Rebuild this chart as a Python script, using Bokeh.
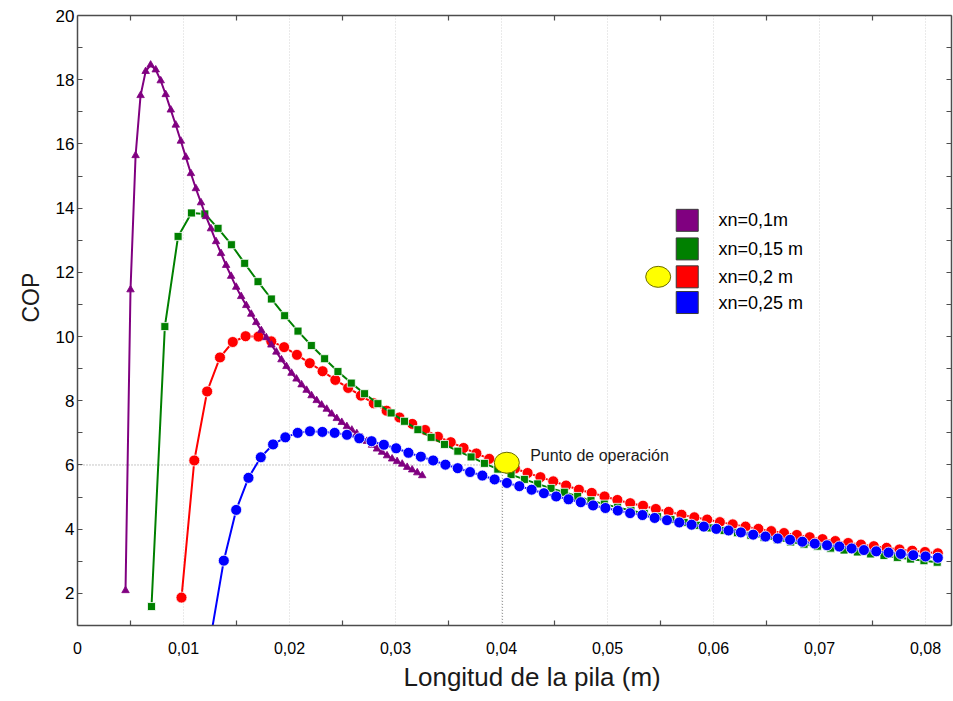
from bokeh.plotting import figure
from bokeh.models import FixedTicker, LinearAxis, Range1d, Label, Title, ColumnDataSource
from bokeh.embed import file_html
from bokeh.resources import INLINE
from bokeh.core.properties import value

FONT = "Liberation Sans"

# ---- data: xn = 0.1 m (purple triangles)
x_01 = [0.00453, 0.00500, 0.00548, 0.00595, 0.00643, 0.00690, 0.00738, 0.00785, 0.00832, 0.00880,
        0.00927, 0.00975, 0.01022, 0.01070, 0.01117, 0.01165, 0.01212, 0.01259, 0.01307, 0.01354,
        0.01402, 0.01449, 0.01497, 0.01544, 0.01592, 0.01639, 0.01686, 0.01734, 0.01781, 0.01829,
        0.01876, 0.01924, 0.01971, 0.02019, 0.02066, 0.02114, 0.02161, 0.02208, 0.02256, 0.02303,
        0.02351, 0.02398, 0.02446, 0.02493, 0.02541, 0.02588, 0.02635, 0.02683, 0.02730, 0.02778,
        0.02825, 0.02873, 0.02920, 0.02968, 0.03015, 0.03063, 0.03110, 0.03157, 0.03205, 0.03252]
cop_01 = [2.09, 11.46, 15.64, 17.51, 18.26, 18.46, 18.31, 17.97, 17.54, 17.06,
          16.59, 16.09, 15.59, 15.08, 14.61, 14.17, 13.74, 13.36, 12.96, 12.59,
          12.22, 11.88, 11.54, 11.25, 10.97, 10.70, 10.44, 10.19, 9.97, 9.74,
          9.52, 9.28, 9.07, 8.86, 8.68, 8.50, 8.33, 8.16, 8.01, 7.87,
          7.74, 7.59, 7.45, 7.33, 7.20, 7.09, 6.98, 6.86, 6.74, 6.62,
          6.50, 6.40, 6.29, 6.19, 6.11, 6.03, 5.93, 5.85, 5.76, 5.67]

# ---- data: xn = 0.15 m (green squares)
x_015 = [0.00698, 0.00824, 0.00949, 0.01075, 0.01201, 0.01326, 0.01452, 0.01577, 0.01703, 0.01829,
         0.01954, 0.02080, 0.02206, 0.02331, 0.02457, 0.02583, 0.02708, 0.02834, 0.02959, 0.03085,
         0.03211, 0.03336, 0.03462, 0.03588, 0.03713, 0.03839, 0.03965, 0.04090, 0.04216, 0.04341,
         0.04467, 0.04593, 0.04718, 0.04844, 0.04970, 0.05095, 0.05221, 0.05346, 0.05472, 0.05598,
         0.05723, 0.05849, 0.05975, 0.06100, 0.06226, 0.06352, 0.06477, 0.06603, 0.06728, 0.06854,
         0.06980, 0.07105, 0.07231, 0.07357, 0.07482, 0.07608, 0.07734, 0.07859, 0.07985, 0.08110]
cop_015 = [1.59, 10.31, 13.12, 13.85, 13.82, 13.37, 12.86, 12.28, 11.71, 11.17,
           10.65, 10.17, 9.72, 9.31, 8.91, 8.55, 8.22, 7.91, 7.62, 7.36,
           7.10, 6.86, 6.64, 6.43, 6.25, 6.05, 5.87, 5.70, 5.55, 5.41,
           5.27, 5.15, 5.02, 4.89, 4.78, 4.68, 4.58, 4.49, 4.39, 4.30,
           4.21, 4.12, 4.04, 3.96, 3.89, 3.81, 3.74, 3.67, 3.60, 3.53,
           3.47, 3.41, 3.35, 3.29, 3.23, 3.18, 3.12, 3.07, 3.02, 2.97]

# ---- data: xn = 0.2 m (red circles)
x_02 = [0.00981, 0.01102, 0.01223, 0.01344, 0.01465, 0.01586, 0.01707, 0.01828, 0.01949, 0.02070,
        0.02191, 0.02312, 0.02432, 0.02553, 0.02674, 0.02795, 0.02916, 0.03037, 0.03158, 0.03279,
        0.03400, 0.03521, 0.03642, 0.03763, 0.03884, 0.04005, 0.04126, 0.04246, 0.04367, 0.04488,
        0.04609, 0.04730, 0.04851, 0.04972, 0.05093, 0.05214, 0.05335, 0.05456, 0.05577, 0.05698,
        0.05819, 0.05940, 0.06060, 0.06181, 0.06302, 0.06423, 0.06544, 0.06665, 0.06786, 0.06907,
        0.07028, 0.07149, 0.07270, 0.07391, 0.07512, 0.07633, 0.07754, 0.07874, 0.07995, 0.08116]
cop_02 = [1.87, 6.14, 8.29, 9.35, 9.83, 10.01, 10.00, 9.85, 9.67, 9.43,
          9.17, 8.92, 8.65, 8.40, 8.16, 7.92, 7.69, 7.48, 7.28, 7.09,
          6.88, 6.71, 6.53, 6.36, 6.19, 6.03, 5.89, 5.75, 5.62, 5.49,
          5.36, 5.23, 5.13, 5.02, 4.91, 4.81, 4.73, 4.63, 4.54, 4.45,
          4.37, 4.30, 4.22, 4.15, 4.08, 4.01, 3.94, 3.88, 3.82, 3.75,
          3.69, 3.63, 3.57, 3.52, 3.47, 3.42, 3.37, 3.33, 3.29, 3.25]

# ---- data: xn = 0.25 m (blue circles)
x_025 = [0.01264, 0.01380, 0.01497, 0.01613, 0.01729, 0.01845, 0.01961, 0.02077, 0.02193, 0.02310,
         0.02426, 0.02542, 0.02658, 0.02774, 0.02890, 0.03006, 0.03122, 0.03239, 0.03355, 0.03471,
         0.03587, 0.03703, 0.03819, 0.03935, 0.04051, 0.04168, 0.04284, 0.04400, 0.04516, 0.04632,
         0.04748, 0.04864, 0.04980, 0.05097, 0.05213, 0.05329, 0.05445, 0.05561, 0.05677, 0.05793,
         0.05909, 0.06026, 0.06142, 0.06258, 0.06374, 0.06490, 0.06606, 0.06722, 0.06838, 0.06955,
         0.07071, 0.07187, 0.07303, 0.07419, 0.07535, 0.07651, 0.07767, 0.07884, 0.08000, 0.08116]
cop_025 = [0.78, 3.02, 4.60, 5.60, 6.24, 6.64, 6.86, 7.00, 7.05, 7.03,
           7.00, 6.94, 6.83, 6.74, 6.63, 6.52, 6.38, 6.26, 6.14, 6.01,
           5.90, 5.78, 5.67, 5.55, 5.44, 5.34, 5.23, 5.12, 5.02, 4.93,
           4.84, 4.74, 4.66, 4.58, 4.50, 4.44, 4.35, 4.28, 4.21, 4.14,
           4.08, 4.01, 3.96, 3.90, 3.83, 3.77, 3.71, 3.67, 3.61, 3.55,
           3.50, 3.46, 3.40, 3.35, 3.31, 3.27, 3.23, 3.19, 3.15, 3.11]

series_labels = ["xn=0,1m", "xn=0,15 m", "xn=0,2 m", "xn=0,25 m"]
series_colors = ["#800080", "#008000", "#ff0000", "#0000ff"]

x_ticks = [0, 0.01, 0.02, 0.03, 0.04, 0.05, 0.06, 0.07, 0.08]
x_tick_labels = ["0", "0,01", "0,02", "0,03", "0,04", "0,05", "0,06", "0,07", "0,08"]
x_minor_ticks = [0.005, 0.015, 0.025, 0.035, 0.045, 0.055, 0.065, 0.075]
y_ticks = [2, 4, 6, 8, 10, 12, 14, 16, 18, 20]
y_minor_ticks = [1, 3, 5, 7, 9, 11, 13, 15, 17, 19]

x_title = "Longitud de la pila (m)"
y_title = "COP"

# operating point
op_x = [0.0405]
op_y = [6.07]
op_guide_x = 0.0401
op_guide_y = 6.0
op_text = "Punto de operación"

# legend layout (data coordinates of the hand-drawn legend)
legend_box_x = 0.05752
legend_text_x = 0.06047
legend_rows_y = [13.62, 12.73, 11.86, 11.06]
legend_mark_x = [0.05478]   # yellow marker beside the xn=0,2 m entry

X_MAX = 0.08245
Y_MIN, Y_MAX = 1, 20
AXIS_COLOR = "#4d4d4d"

p = figure(width=953, height=701, x_range=Range1d(0, X_MAX), y_range=Range1d(Y_MIN, Y_MAX),
           output_backend="svg", toolbar_location=None,
           min_border_left=77, min_border_right=2, min_border_top=15, min_border_bottom=76)
p.outline_line_color = None
p.background_fill_color = "white"
p.border_fill_color = "white"

# grids
p.xgrid.ticker = FixedTicker(ticks=x_ticks)
p.xgrid.grid_line_color = "#d4d4d4"
p.xgrid.grid_line_dash = "1 2"
p.ygrid.grid_line_color = None

# bottom axis
xa = p.xaxis[0]
xa.ticker = FixedTicker(ticks=x_ticks, minor_ticks=x_minor_ticks)
xa.major_label_overrides = dict(zip(x_ticks, x_tick_labels))
xa.major_tick_line_color = None
xa.minor_tick_in = 5
xa.minor_tick_out = 0
xa.minor_tick_line_color = AXIS_COLOR
xa.minor_tick_line_width = 1.2
xa.axis_line_color = AXIS_COLOR
xa.axis_line_width = 1.5
xa.major_label_text_font = FONT
xa.major_label_text_font_size = "16px"
xa.major_label_text_color = "black"
xa.major_label_standoff = 10

# left axis
ya = p.yaxis[0]
ya.ticker = FixedTicker(ticks=y_ticks, minor_ticks=y_minor_ticks)
ya.major_tick_in = 5
ya.major_tick_out = 0
ya.minor_tick_in = 5
ya.minor_tick_out = 0
ya.major_tick_line_color = AXIS_COLOR
ya.minor_tick_line_color = AXIS_COLOR
ya.major_tick_line_width = 1.2
ya.minor_tick_line_width = 1.2
ya.axis_line_color = AXIS_COLOR
ya.axis_line_width = 1.5
ya.major_label_text_font = FONT
ya.major_label_text_font_size = "17px"
ya.major_label_text_color = "black"
ya.major_label_standoff = 3

# top axis (tick marks only)
top = LinearAxis(ticker=FixedTicker(ticks=[], minor_ticks=x_minor_ticks),
                 major_tick_line_color=None, minor_tick_in=5, minor_tick_out=0,
                 minor_tick_line_color=AXIS_COLOR, minor_tick_line_width=1.2,
                 axis_line_color=AXIS_COLOR, axis_line_width=1.5, major_label_standoff=0)
p.add_layout(top, "above")

# right axis (tick marks only)
right = LinearAxis(ticker=FixedTicker(ticks=[], minor_ticks=sorted(y_ticks + y_minor_ticks)),
                   major_tick_line_color=None, minor_tick_in=5, minor_tick_out=0,
                   minor_tick_line_color=AXIS_COLOR, minor_tick_line_width=1.2,
                   axis_line_color=AXIS_COLOR, axis_line_width=1.5, major_label_standoff=0)
p.add_layout(right, "right")

# axis titles as side titles (slightly off-centre like the original)
p.add_layout(Title(text=x_title, align="left", offset=326, vertical_align="middle",
                   text_font=FONT, text_font_size="26px", text_font_style="normal",
                   text_color="#1a1a1a", standoff=8), "below")
p.add_layout(Title(text=y_title, align="left", offset=303, vertical_align="middle",
                   text_font=FONT, text_font_size="23px", text_font_style="normal",
                   text_color="#1a1a1a", standoff=16), "left")

# operating point guide lines
p.line([0, op_guide_x, op_guide_x], [op_guide_y, op_guide_y, Y_MIN],
       line_color="#8c8c8c", line_width=1, line_dash="1 2")

# series
series = [
    (x_02, cop_02, "circle", 11, series_colors[2], "white"),
    (x_015, cop_015, "square", 8, series_colors[1], "white"),
    (x_01, cop_01, "triangle", 7.5, series_colors[0], series_colors[0]),
    (x_025, cop_025, "circle", 11, series_colors[3], "white"),
]
for xs, ys, mk, sz, col, edge in series:
    src = ColumnDataSource(dict(x=xs, y=ys))
    p.line("x", "y", source=src, line_color=col, line_width=2)
    p.scatter("x", "y", source=src, marker=mk, size=sz, fill_color=col,
              line_color=edge, line_width=0.8)

# operating point marker and text
p.ellipse(x=op_x, y=op_y, width=25, height=21, width_units="screen", height_units="screen",
          fill_color="#ffff00", line_color="#6b6b00", line_width=1)
p.add_layout(Label(x=op_x[0] + 0.0022, y=op_y[0] + 0.22, text=op_text,
                   text_font=FONT, text_font_size="16px", text_color="#1a1a1a",
                   text_baseline="middle", text_align="left"))

# legend: filled squares with labels
p.rect(x=[legend_box_x] * len(series_labels), y=legend_rows_y, width=22, height=22,
       width_units="screen", height_units="screen",
       fill_color=series_colors, line_color="#3a3a3a", line_width=1)
p.text(x=[legend_text_x] * len(series_labels), y=legend_rows_y, text=series_labels,
       text_font=value(FONT), text_font_size="18px", text_color="black",
       text_baseline="middle", text_align="left")
p.ellipse(x=legend_mark_x, y=[legend_rows_y[2]], width=25, height=21,
          width_units="screen", height_units="screen",
          fill_color="#ffff00", line_color="#6b6b00", line_width=1)

open("out.html", "w").write(file_html(p, INLINE))
